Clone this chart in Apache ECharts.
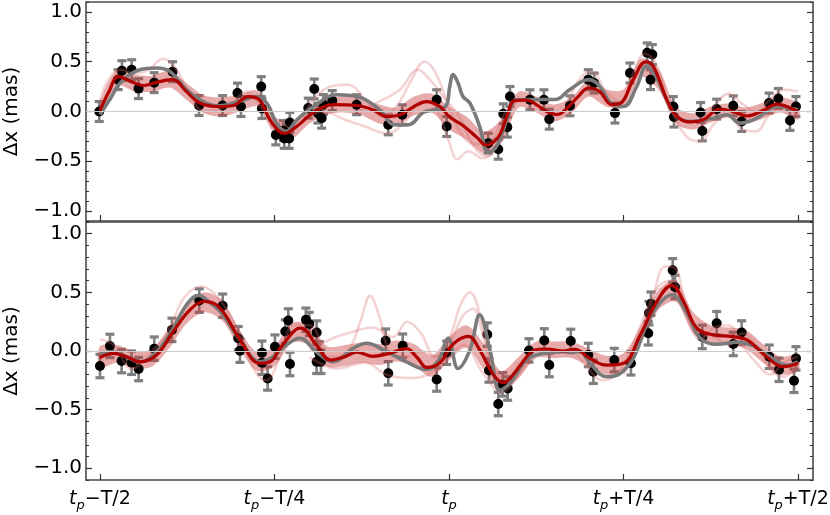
<!DOCTYPE html>
<html><head><meta charset="utf-8">
<script src="https://cdn.jsdelivr.net/npm/echarts@6/dist/echarts.min.js"></script>
<style>html,body{margin:0;padding:0;background:#fff}#c{width:830px;height:515px}</style>
</head><body><div id="c"></div>
<script>
// ---------------- data (time in units of the period T, relative to t_p) ----------------
const xTickVals = [-0.5, -0.25, 0, 0.25, 0.5];
const xTickText = ['\u2212T/2', '\u2212T/4', '', '+T/4', '+T/2'];
const yMajor = [-1, -0.5, 0, 0.5, 1];
const yMinor = [-1.1,-1.0,-0.9,-0.8,-0.7,-0.6,-0.5,-0.4,-0.3,-0.2,-0.1,0,0.1,0.2,0.3,0.4,0.5,0.6,0.7,0.8,0.9,1.0,1.1];
const ERR = 0.1;

// top panel
const topPoints = [[-0.501,0.0],[-0.474,0.32],[-0.4685,0.41],[-0.4546,0.42],[-0.4447,0.23],[-0.4223,0.29],[-0.396,0.40],[-0.358,0.06],[-0.3244,0.06],[-0.303,0.185],[-0.298,0.05],[-0.269,0.25],[-0.268,0.03],[-0.248,-0.235],[-0.237,-0.19],[-0.236,-0.27],[-0.229,-0.27],[-0.228,-0.11],[-0.2016,0.034],[-0.193,0.226],[-0.188,-0.016],[-0.1824,-0.067],[-0.18,0.07],[-0.1672,0.11],[-0.1323,0.068],[-0.087,-0.134],[-0.0669,-0.033],[-0.0176,0.118],[-0.0033,-0.151],[0.0563,-0.318],[0.0706,-0.379],[0.0778,-0.023],[0.0874,0.151],[0.0835,-0.157],[0.116,0.118],[0.136,0.118],[0.1437,-0.077],[0.1734,0.057],[0.1996,0.32],[0.208,0.286],[0.2378,-0.016],[0.2593,0.387],[0.284,0.589],[0.2913,0.572],[0.2888,0.32],[0.3214,0.05],[0.3223,-0.056],[0.3605,-0.01],[0.3629,-0.195],[0.3835,0.024],[0.4073,0.057],[0.4193,-0.10],[0.4585,0.085],[0.4718,0.131],[0.4885,-0.09],[0.4971,0.05]];
const topMean = [[-0.5,0.01],[-0.487,0.2],[-0.474,0.35],[-0.455,0.3],[-0.438,0.26],[-0.415,0.3],[-0.396,0.32],[-0.376,0.2],[-0.357,0.085],[-0.33,0.05],[-0.309,0.06],[-0.288,0.15],[-0.272,0.12],[-0.255,-0.1],[-0.236,-0.22],[-0.22,-0.16],[-0.2,-0.04],[-0.185,0.03],[-0.166,0.07],[-0.132,0.06],[-0.109,0.017],[-0.089,-0.05],[-0.07,-0.033],[-0.05,0.05],[-0.032,0.1],[-0.013,0.05],[0.0,-0.05],[0.02,-0.14],[0.04,-0.26],[0.054,-0.34],[0.065,-0.3],[0.073,-0.23],[0.083,-0.05],[0.094,0.11],[0.111,0.115],[0.125,0.07],[0.14,0.0],[0.155,-0.03],[0.17,0.04],[0.185,0.15],[0.2,0.236],[0.216,0.2],[0.233,0.07],[0.245,0.08],[0.264,0.32],[0.282,0.5],[0.293,0.45],[0.312,0.12],[0.326,-0.045],[0.345,-0.105],[0.364,-0.084],[0.388,0.025],[0.407,0.0],[0.427,-0.045],[0.45,0.01],[0.47,0.075],[0.484,0.05],[0.5,0.0]];
const topTrue = [[-0.5,-0.03],[-0.485,0.13],[-0.471,0.286],[-0.443,0.42],[-0.419,0.437],[-0.4,0.403],[-0.376,0.22],[-0.357,0.118],[-0.333,0.057],[-0.3,0.1],[-0.276,0.15],[-0.261,0.085],[-0.247,-0.117],[-0.233,-0.2],[-0.218,-0.084],[-0.194,0.05],[-0.161,0.168],[-0.132,0.151],[-0.099,0.017],[-0.08,-0.13],[-0.066,-0.135],[-0.056,-0.13],[-0.037,-0.01],[-0.018,0.02],[-0.004,0.06],[0.001,0.25],[0.006,0.37],[0.013,0.286],[0.02,0.151],[0.03,0.085],[0.044,-0.151],[0.056,-0.41],[0.068,-0.353],[0.083,-0.084],[0.097,0.118],[0.13,0.12],[0.152,0.12],[0.173,0.22],[0.2,0.32],[0.214,0.27],[0.235,0.068],[0.25,0.05],[0.269,0.252],[0.283,0.454],[0.295,0.37],[0.312,0.118],[0.326,-0.05],[0.345,-0.1],[0.379,-0.067],[0.398,-0.033],[0.417,-0.117],[0.441,-0.067],[0.47,0.05],[0.5,0.017]];
const bandT = [-0.5,-0.475,-0.45,-0.425,-0.4,-0.375,-0.35,-0.325,-0.3,-0.275,-0.25,-0.225,-0.2,-0.175,-0.15,-0.125,-0.1,-0.075,-0.05,-0.025,0,0.025,0.05,0.075,0.1,0.125,0.15,0.175,0.2,0.225,0.25,0.275,0.3,0.325,0.35,0.375,0.4,0.425,0.45,0.475,0.5];
const topBandLo = [-0.06,0.26,0.2,0.2,0.24,0.11,-0.02,-0.05,0.0,0.05,-0.22,-0.27,-0.12,-0.03,-0.01,-0.04,-0.12,-0.13,-0.04,-0.01,-0.18,-0.28,-0.42,-0.32,0.04,-0.01,-0.1,-0.02,0.15,0.05,0.04,0.35,0.22,-0.12,-0.18,-0.11,-0.06,-0.12,-0.07,-0.01,-0.08];
const topBandHi = [0.1,0.42,0.37,0.36,0.41,0.28,0.16,0.14,0.17,0.21,-0.05,-0.1,0.05,0.13,0.15,0.13,0.07,0.04,0.15,0.18,0.05,-0.05,-0.2,-0.08,0.2,0.15,0.07,0.14,0.31,0.22,0.22,0.53,0.43,0.05,-0.02,0.05,0.08,0.04,0.09,0.14,0.08];
const topSamples = [
  [[-0.5,0.12],[-0.485,0.35],[-0.47,0.42],[-0.45,0.38],[-0.43,0.42],[-0.41,0.53],[-0.39,0.42],[-0.37,0.15],[-0.35,0.0],[-0.33,0.02],[-0.31,0.1],[-0.29,0.2],[-0.27,0.05],[-0.25,-0.1]],
  [[-0.21,-0.05],[-0.19,0.15],[-0.17,0.25],[-0.145,0.27],[-0.12,0.12],[-0.095,-0.05],[-0.075,0.05],[-0.055,0.3],[-0.035,0.5],[-0.02,0.4],[0.0,0.05],[0.02,-0.25],[0.04,-0.33],[0.06,-0.3],[0.08,-0.02],[0.1,0.15]],
  [[-0.21,-0.1],[-0.18,0.0],[-0.15,-0.08],[-0.12,-0.15],[-0.09,-0.22],[-0.065,-0.12],[-0.04,0.1],[-0.02,0.05],[0.0,-0.3],[0.012,-0.48],[0.028,-0.4],[0.048,-0.47],[0.07,-0.33],[0.09,0.05],[0.11,0.13]],
  [[-0.13,0.0],[-0.1,0.1],[-0.07,0.22],[-0.045,0.42],[-0.025,0.3],[-0.005,0.12],[0.015,-0.05],[0.035,-0.35],[0.055,-0.45],[0.075,-0.2],[0.095,0.1]],
  [[0.3,0.32],[0.32,0.0],[0.34,-0.25],[0.36,-0.3],[0.38,-0.12],[0.4,-0.03],[0.42,-0.18],[0.44,-0.2],[0.46,-0.02],[0.48,0.05],[0.5,-0.05]],
  [[0.36,-0.1],[0.38,0.05],[0.4,0.18],[0.42,0.08],[0.44,0.0],[0.46,0.12],[0.48,0.22],[0.5,0.2]],
  [[0.17,0.1],[0.19,0.35],[0.205,0.4],[0.225,0.2],[0.245,0.1],[0.265,0.4],[0.28,0.58],[0.295,0.5],[0.31,0.2]]
];

// bottom panel
const botPoints = [[-0.5,-0.128],[-0.4857,0.043],[-0.469,-0.086],[-0.4547,-0.1],[-0.4446,-0.154],[-0.4222,0.02],[-0.3969,0.18],[-0.3577,0.43],[-0.3242,0.386],[-0.3019,0.109],[-0.2994,0.003],[-0.2679,-0.015],[-0.2679,-0.1],[-0.2598,-0.234],[-0.2493,0.037],[-0.2345,0.166],[-0.2302,0.26],[-0.2278,-0.111],[-0.2049,0.266],[-0.2001,0.23],[-0.1896,0.157],[-0.1896,-0.092],[-0.1834,-0.092],[-0.1858,-0.02],[-0.0907,0.088],[-0.087,-0.19],[-0.0663,0.045],[-0.0176,-0.243],[-0.0033,-0.015],[0.0549,0.14],[0.0573,-0.166],[0.0706,-0.452],[0.0769,-0.285],[0.0841,-0.32],[0.1146,0.005],[0.1365,0.09],[0.1437,-0.12],[0.1745,0.086],[0.1996,-0.034],[0.2068,-0.177],[0.2368,-0.077],[0.2607,-0.105],[0.2855,0.151],[0.2865,0.323],[0.2894,0.403],[0.3205,0.688],[0.3238,0.546],[0.3629,0.12],[0.3835,0.237],[0.4073,0.06],[0.4193,0.158],[0.4589,-0.049],[0.4728,-0.16],[0.4943,-0.254],[0.4971,-0.063]];
const botMean = [[-0.5,-0.057],[-0.481,-0.02],[-0.462,-0.049],[-0.443,-0.092],[-0.419,-0.034],[-0.395,0.166],[-0.371,0.351],[-0.35,0.423],[-0.328,0.366],[-0.299,0.094],[-0.271,-0.105],[-0.256,-0.092],[-0.242,0.023],[-0.22,0.18],[-0.212,0.195],[-0.19,0.051],[-0.17,-0.077],[-0.15,-0.05],[-0.132,-0.01],[-0.109,-0.045],[-0.085,-0.02],[-0.061,0.02],[-0.045,-0.06],[-0.032,-0.14],[-0.013,-0.1],[0.006,0.06],[0.028,0.125],[0.044,0.01],[0.064,-0.206],[0.078,-0.27],[0.092,-0.2],[0.11,-0.06],[0.121,0.005],[0.14,0.017],[0.164,0.0],[0.18,0.015],[0.202,-0.063],[0.226,-0.12],[0.25,-0.105],[0.274,0.137],[0.298,0.423],[0.319,0.56],[0.336,0.423],[0.355,0.195],[0.379,0.137],[0.407,0.123],[0.427,0.094],[0.455,-0.049],[0.479,-0.134],[0.5,-0.105]];
const botTrue = [[-0.5,-0.02],[-0.481,-0.006],[-0.462,-0.049],[-0.443,-0.092],[-0.419,-0.006],[-0.395,0.195],[-0.376,0.394],[-0.359,0.474],[-0.342,0.408],[-0.328,0.337],[-0.299,0.094],[-0.271,-0.092],[-0.252,-0.049],[-0.233,0.051],[-0.214,0.109],[-0.19,-0.006],[-0.166,-0.092],[-0.137,0.023],[-0.118,0.066],[-0.094,0.009],[-0.061,-0.092],[-0.032,-0.157],[-0.015,-0.08],[-0.001,0.109],[0.013,-0.149],[0.03,0.009],[0.044,0.308],[0.059,0.0],[0.073,-0.334],[0.087,-0.277],[0.111,-0.077],[0.135,-0.02],[0.164,-0.006],[0.188,-0.006],[0.202,-0.105],[0.226,-0.22],[0.245,-0.191],[0.264,-0.063],[0.283,0.223],[0.3,0.394],[0.319,0.48],[0.341,0.323],[0.36,0.109],[0.384,0.057],[0.412,0.074],[0.436,0.045],[0.46,-0.049],[0.484,-0.12],[0.5,-0.092]];
const botBandLo = [-0.14,-0.1,-0.15,-0.13,0.03,0.24,0.33,0.26,0.02,-0.17,-0.13,0.07,0.05,-0.13,-0.13,-0.1,-0.12,-0.09,-0.13,-0.22,-0.08,0.03,-0.16,-0.34,-0.23,-0.06,-0.06,-0.06,-0.13,-0.2,-0.19,0.06,0.35,0.42,0.15,0.07,0.05,0.02,-0.1,-0.2,-0.17];
const botBandHi = [0.04,0.05,0.0,0.02,0.2,0.41,0.5,0.43,0.18,-0.01,0.04,0.24,0.22,0.04,0.05,0.07,0.06,0.09,0.06,-0.04,0.12,0.22,0.06,-0.17,-0.05,0.08,0.08,0.08,0.02,-0.04,-0.02,0.22,0.52,0.6,0.33,0.22,0.2,0.18,0.06,-0.05,-0.03];
const botSamples = [
  [[-0.5,0.1],[-0.48,0.05],[-0.455,-0.15],[-0.425,0.0],[-0.4,0.2],[-0.38,0.45],[-0.355,0.55],[-0.33,0.45],[-0.3,0.15],[-0.28,-0.15],[-0.262,-0.25],[-0.242,-0.05],[-0.222,0.22],[-0.2,0.22],[-0.18,0.0]],
  [[-0.2,0.1],[-0.17,-0.05],[-0.145,0.0],[-0.127,0.25],[-0.113,0.47],[-0.1,0.3],[-0.085,0.0],[-0.06,-0.05],[-0.04,0.0],[-0.02,-0.05],[0.0,0.1],[0.017,0.4],[0.03,0.5],[0.045,0.3],[0.06,-0.1],[0.08,-0.25],[0.1,-0.1]],
  [[-0.2,0.0],[-0.17,0.1],[-0.14,0.16],[-0.11,0.2],[-0.08,0.12],[-0.06,0.25],[-0.04,0.15],[-0.02,-0.05],[0.0,0.05],[0.02,0.3],[0.035,0.36],[0.05,0.1],[0.07,-0.2],[0.09,-0.25],[0.11,-0.05]],
  [[-0.2,-0.05],[-0.16,-0.15],[-0.12,-0.1],[-0.09,-0.2],[-0.06,-0.23],[-0.03,-0.2],[0.0,-0.05],[0.02,0.05],[0.05,-0.2],[0.075,-0.35],[0.1,-0.2],[0.12,-0.02]],
  [[0.25,-0.2],[0.27,0.05],[0.29,0.4],[0.31,0.72],[0.325,0.7],[0.34,0.35],[0.36,0.1],[0.38,0.2],[0.4,0.22],[0.42,0.05],[0.44,-0.1],[0.46,-0.2],[0.48,-0.1],[0.5,-0.05]],
  [[0.18,0.0],[0.2,-0.15],[0.22,-0.25],[0.24,-0.2],[0.26,0.0],[0.28,0.3],[0.3,0.55],[0.32,0.6],[0.34,0.3],[0.36,0.15],[0.38,0.12],[0.4,0.05],[0.42,0.15],[0.44,0.05],[0.46,-0.15],[0.48,-0.22],[0.5,-0.1]]
];

// ---------------- chart ----------------
const FONT = 'DejaVu Sans';
const FRAME = '#4a4a4a';
const panels = [
  {top: 2, height: 219, pts: topPoints, mean: topMean, truth: topTrue, lo: topBandLo, hi: topBandHi, samples: topSamples},
  {top: 222, height: 258, pts: botPoints, mean: botMean, truth: botTrue, lo: botBandLo, hi: botBandHi, samples: botSamples}
];

function xLabel(v) {
  const k = xTickVals.findIndex(q => Math.abs(q - v) < 1e-9);
  if (k < 0) return '';
  return '{i|t}{s|p}' + (xTickText[k] ? '{n|' + xTickText[k] + '}' : '');
}
function yLabel(v) {
  const a = Math.abs(v).toFixed(1);
  return v < -1e-9 ? '\u2212' + a : a;
}

const grid = [], xAxis = [], yAxis = [], series = [];
panels.forEach((p, g) => {
  grid.push({left: 86, top: p.top, width: 727, height: p.height, show: true, containLabel: false,
    outerBoundsMode: 'none',
    borderColor: FRAME, borderWidth: 1.6, backgroundColor: 'transparent'});
  xAxis.push({type: 'value', gridIndex: g, min: -0.52, max: 0.5215,
    axisLine: {show: false, onZero: false}, splitLine: {show: false},
    axisTick: {show: true, inside: true, length: 6, customValues: xTickVals, lineStyle: {color: '#333', width: 1.2}},
    axisLabel: {show: g === 1, customValues: xTickVals, formatter: xLabel, margin: 7, color: '#000',
      rich: {
        i: {fontFamily: FONT, fontSize: 19, fontStyle: 'italic', color: '#000'},
        s: {fontFamily: FONT, fontSize: 13, fontStyle: 'italic', color: '#000', padding: [12, 0, 0, 0]},
        n: {fontFamily: FONT, fontSize: 19, color: '#000'}
      }}
  });
  const base = {type: 'value', gridIndex: g, min: -1.1, max: 1.1,
    axisLine: {show: false, onZero: false}, splitLine: {show: false}};
  yAxis.push(Object.assign({}, base, {position: 'left',
    axisTick: {show: true, inside: true, length: 6, customValues: yMajor, lineStyle: {color: '#333', width: 1.2}},
    axisLabel: {customValues: yMajor, formatter: yLabel, fontFamily: FONT, fontSize: 20, color: '#000', margin: 4},
    name: '\u0394x (mas)', nameLocation: 'middle', nameGap: 64, nameRotate: 90,
    nameTextStyle: {fontFamily: FONT, fontSize: 20, color: '#000'}}));
  yAxis.push(Object.assign({}, base, {position: 'left',
    axisTick: {show: true, inside: true, length: 3, customValues: yMinor, lineStyle: {color: '#333', width: 1}},
    axisLabel: {show: false}}));
  yAxis.push(Object.assign({}, base, {position: 'right',
    axisTick: {show: true, inside: true, length: 6, customValues: yMajor, lineStyle: {color: '#333', width: 1.2}},
    axisLabel: {show: false}}));
  yAxis.push(Object.assign({}, base, {position: 'right',
    axisTick: {show: true, inside: true, length: 3, customValues: yMinor, lineStyle: {color: '#333', width: 1}},
    axisLabel: {show: false}}));

  const yi = g * 4;
  // zero reference line + error bars
  series.push({type: 'custom', xAxisIndex: g, yAxisIndex: yi, silent: true,
    data: p.pts.map(d => [d[0], d[1], ERR]), encode: {x: 0, y: 1},
    markLine: {silent: true, symbol: 'none', label: {show: false}, lineStyle: {color: '#cccccc', width: 1.2, type: 'solid'}, data: [{yAxis: 0}]},
    renderItem: (params, api) => {
      const x = api.value(0), y = api.value(1), e = api.value(2);
      const a = api.coord([x, y + e]), b = api.coord([x, y - e]);
      const w = 4.5;
      return {type: 'group', children: [
        {type: 'line', shape: {x1: a[0], y1: a[1], x2: b[0], y2: b[1]}, style: {stroke: '#7f7f7f', lineWidth: 2.6}},
        {type: 'line', shape: {x1: a[0] - w, y1: a[1], x2: a[0] + w, y2: a[1]}, style: {stroke: '#7f7f7f', lineWidth: 3.2}},
        {type: 'line', shape: {x1: b[0] - w, y1: b[1], x2: b[0] + w, y2: b[1]}, style: {stroke: '#7f7f7f', lineWidth: 3.2}}
      ]};
    }});
  // data points
  series.push({type: 'scatter', xAxisIndex: g, yAxisIndex: yi, data: p.pts, symbol: 'circle', symbolSize: 10,
    itemStyle: {color: '#000', opacity: 1}, silent: true});
  // posterior band (dense cluster of samples)
  series.push({type: 'custom', xAxisIndex: g, yAxisIndex: yi, silent: true, data: [[bandT[0], p.lo[0]]], encode: {x: 0, y: 1},
    renderItem: (params, api) => {
      const pts = [];
      bandT.forEach((t, i) => pts.push(api.coord([t, p.hi[i]])));
      for (let i = bandT.length - 1; i >= 0; i--) pts.push(api.coord([bandT[i], p.lo[i]]));
      return {type: 'polygon', shape: {points: pts, smooth: 0.3}, style: {fill: 'rgba(200,55,55,0.42)'}};
    }});
  // individual samples
  p.samples.forEach(s => series.push({type: 'line', xAxisIndex: g, yAxisIndex: yi, data: s, smooth: 0.4, symbol: 'none',
    lineStyle: {color: 'rgba(215,110,110,0.3)', width: 2.6}, silent: true}));
  // true signal
  series.push({type: 'line', xAxisIndex: g, yAxisIndex: yi, data: p.truth, smooth: 0.4, symbol: 'none',
    lineStyle: {color: '#7a7a7a', width: 3.6}, silent: true});
  // posterior mean
  series.push({type: 'line', xAxisIndex: g, yAxisIndex: yi, data: p.mean, smooth: 0.4, symbol: 'none',
    lineStyle: {color: '#b00000', width: 3.2}, silent: true});
});

const chart = echarts.init(document.getElementById('c'), null, {renderer: 'canvas'});
chart.setOption({animation: false, backgroundColor: '#fff', grid, xAxis, yAxis, series});
</script></body></html>
